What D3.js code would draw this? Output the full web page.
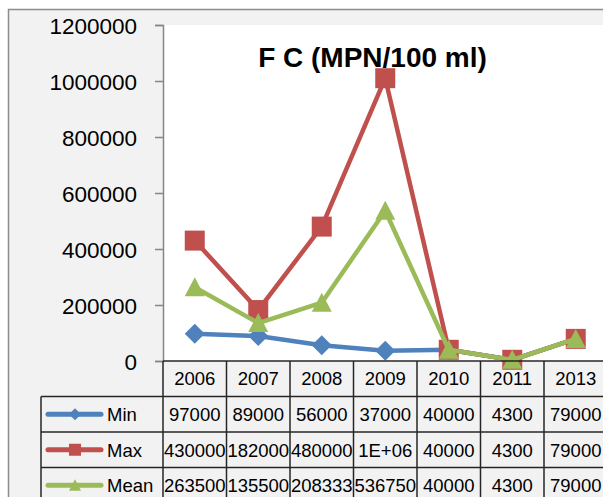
<!DOCTYPE html>
<html>
<head>
<meta charset="utf-8">
<script src="https://d3js.org/d3.v7.min.js"></script>
<style>
  html, body { margin: 0; padding: 0; background: #fff; overflow: hidden; }
  svg { display: block; font-family: "Liberation Sans", Arial, sans-serif; }
</style>
</head>
<body>
<div class="bg"></div>
<script>
// chart values
const years = ["2006", "2007", "2008", "2009", "2010", "2011", "2013"];
const minValues = [97000, 89000, 56000, 37000, 40000, 4300, 79000];
const maxValues = [430000, 182000, 480000, 1010000, 40000, 4300, 79000];
const meanValues = [263500, 135500, 208333, 536750, 40000, 4300, 79000];
const tableMin = ["97000", "89000", "56000", "37000", "40000", "4300", "79000"];
const tableMax = ["430000", "182000", "480000", "1E+06", "40000", "4300", "79000"];
const tableMean = ["263500", "135500", "208333", "536750", "40000", "4300", "79000"];
const yTicks = [0, 200000, 400000, 600000, 800000, 1000000, 1200000];

const series = [
  { name: "Min", values: minValues, table: tableMin, color: "#4F81BD", shape: "diamond" },
  { name: "Max", values: maxValues, table: tableMax, color: "#C0504D", shape: "square" },
  { name: "Mean", values: meanValues, table: tableMean, color: "#9BBB59", shape: "triangle" }
];

const W = 603, H = 497;
const plot = { left: 163, top: 25, bottom: 361 };
const colW = 63.5;
const rowH = 35.5;
const legendLeft = 41;

const svg = d3.select(".bg").append("svg")
  .attr("width", W)
  .attr("height", H);

// chart area
svg.append("rect")
  .attr("x", 8.5).attr("y", 9.5)
  .attr("width", W + 20).attr("height", H + 20)
  .attr("fill", "#f2f2f2")
  .attr("stroke", "#8c8c8c")
  .attr("stroke-width", 1.5);

const xScale = d3.scaleBand()
  .domain(years)
  .range([plot.left, plot.left + colW * years.length]);

const yScale = d3.scaleLinear()
  .domain([0, 1200000])
  .range([plot.bottom, plot.top]);

// plot area
svg.append("rect")
  .attr("x", plot.left).attr("y", plot.top)
  .attr("width", W - plot.left + 10)
  .attr("height", plot.bottom - plot.top)
  .attr("fill", "#fff");

// y axis
const yAxis = d3.axisLeft(yScale)
  .tickValues(yTicks)
  .tickFormat(d3.format("d"))
  .tickSize(8)
  .tickPadding(18);

const gy = svg.append("g")
  .attr("transform", "translate(" + plot.left + ",0)")
  .call(yAxis);
gy.select(".domain").attr("stroke", "#868686").attr("stroke-width", 1.5);
gy.selectAll(".tick line").attr("stroke", "#868686").attr("stroke-width", 1.5);
gy.selectAll(".tick text")
  .attr("fill", "#000")
  .style("font-size", "22.5px")
  .attr("dy", "0.36em");

// title
svg.append("text")
  .attr("x", 372.5)
  .attr("y", 67)
  .attr("text-anchor", "middle")
  .style("font-size", "28px")
  .style("font-weight", "bold")
  .text("F C (MPN/100 ml)");

// markers
function markerPath(shape, r) {
  if (shape === "diamond") return "M0," + (-r) + "L" + r + ",0L0," + r + "L" + (-r) + ",0Z";
  if (shape === "square") return "M" + (-r) + "," + (-r) + "h" + (2 * r) + "v" + (2 * r) + "h" + (-2 * r) + "Z";
  return "M0," + (-r) + "L" + r + "," + (r * 0.9) + "L" + (-r) + "," + (r * 0.9) + "Z";
}

const line = d3.line()
  .x((d, i) => xScale(years[i]) + xScale.bandwidth() / 2)
  .y(d => yScale(d));

const plotClip = svg.append("clipPath").attr("id", "clipPlot")
  .append("rect")
  .attr("x", 0).attr("y", 0)
  .attr("width", W).attr("height", H);

series.forEach(s => {
  const g = svg.append("g").attr("clip-path", "url(#clipPlot)");
  g.append("path")
    .datum(s.values)
    .attr("fill", "none")
    .attr("stroke", s.color)
    .attr("stroke-width", 4.5)
    .attr("stroke-linejoin", "round")
    .attr("d", line);
  g.selectAll(".mk")
    .data(s.values)
    .enter().append("path")
    .attr("class", "mk")
    .attr("transform", (d, i) => "translate(" + (xScale(years[i]) + xScale.bandwidth() / 2) + "," + yScale(d) + ")")
    .attr("d", markerPath(s.shape, 10))
    .attr("fill", s.color);
});

// data table
const table = svg.append("g");
const gridColor = "#262626";
const headTop = plot.bottom;
const tableRight = plot.left + colW * years.length;

// header row
table.selectAll(".head")
  .data(years)
  .enter().append("text")
  .attr("x", d => xScale(d) + xScale.bandwidth() / 2)
  .attr("y", headTop + 24)
  .attr("text-anchor", "middle")
  .style("font-size", "18.5px")
  .text(d => d);

// value rows
series.forEach((s, r) => {
  const top = headTop + rowH * (r + 1);
  table.selectAll(".val" + r)
    .data(s.table)
    .enter().append("text")
    .attr("x", (d, i) => xScale(years[i]) + xScale.bandwidth() / 2)
    .attr("y", top + 24.5)
    .attr("text-anchor", "middle")
    .style("font-size", "18.5px")
    .text(d => d);

  // legend key
  const cy = top + rowH / 2;
  table.append("line")
    .attr("x1", 48).attr("x2", 101)
    .attr("y1", cy).attr("y2", cy)
    .attr("stroke", s.color)
    .attr("stroke-width", 5)
    .attr("stroke-linecap", "round");
  table.append("path")
    .attr("transform", "translate(75," + cy + ")")
    .attr("d", markerPath(s.shape, 6))
    .attr("fill", s.color);
  table.append("text")
    .attr("x", 107)
    .attr("y", top + 24.5)
    .style("font-size", "18.5px")
    .text(s.name);
});

// grid lines
const hLines = [
  { y: headTop, x1: plot.left },
  { y: headTop + rowH, x1: legendLeft },
  { y: headTop + rowH * 2, x1: legendLeft },
  { y: headTop + rowH * 3, x1: legendLeft },
  { y: headTop + rowH * 4, x1: legendLeft }
];
table.selectAll(".hl")
  .data(hLines)
  .enter().append("line")
  .attr("x1", d => d.x1).attr("x2", tableRight)
  .attr("y1", d => d.y).attr("y2", d => d.y)
  .attr("stroke", gridColor)
  .attr("stroke-width", 1.5);

const colEdges = years.map(d => xScale(d)).concat([tableRight]);
table.selectAll(".vl")
  .data(colEdges)
  .enter().append("line")
  .attr("x1", d => d).attr("x2", d => d)
  .attr("y1", headTop).attr("y2", headTop + rowH * 4)
  .attr("stroke", gridColor)
  .attr("stroke-width", 1.5);

table.append("line")
  .attr("x1", legendLeft).attr("x2", legendLeft)
  .attr("y1", headTop + rowH).attr("y2", headTop + rowH * 4)
  .attr("stroke", gridColor)
  .attr("stroke-width", 1.5);
</script>
</body>
</html>
